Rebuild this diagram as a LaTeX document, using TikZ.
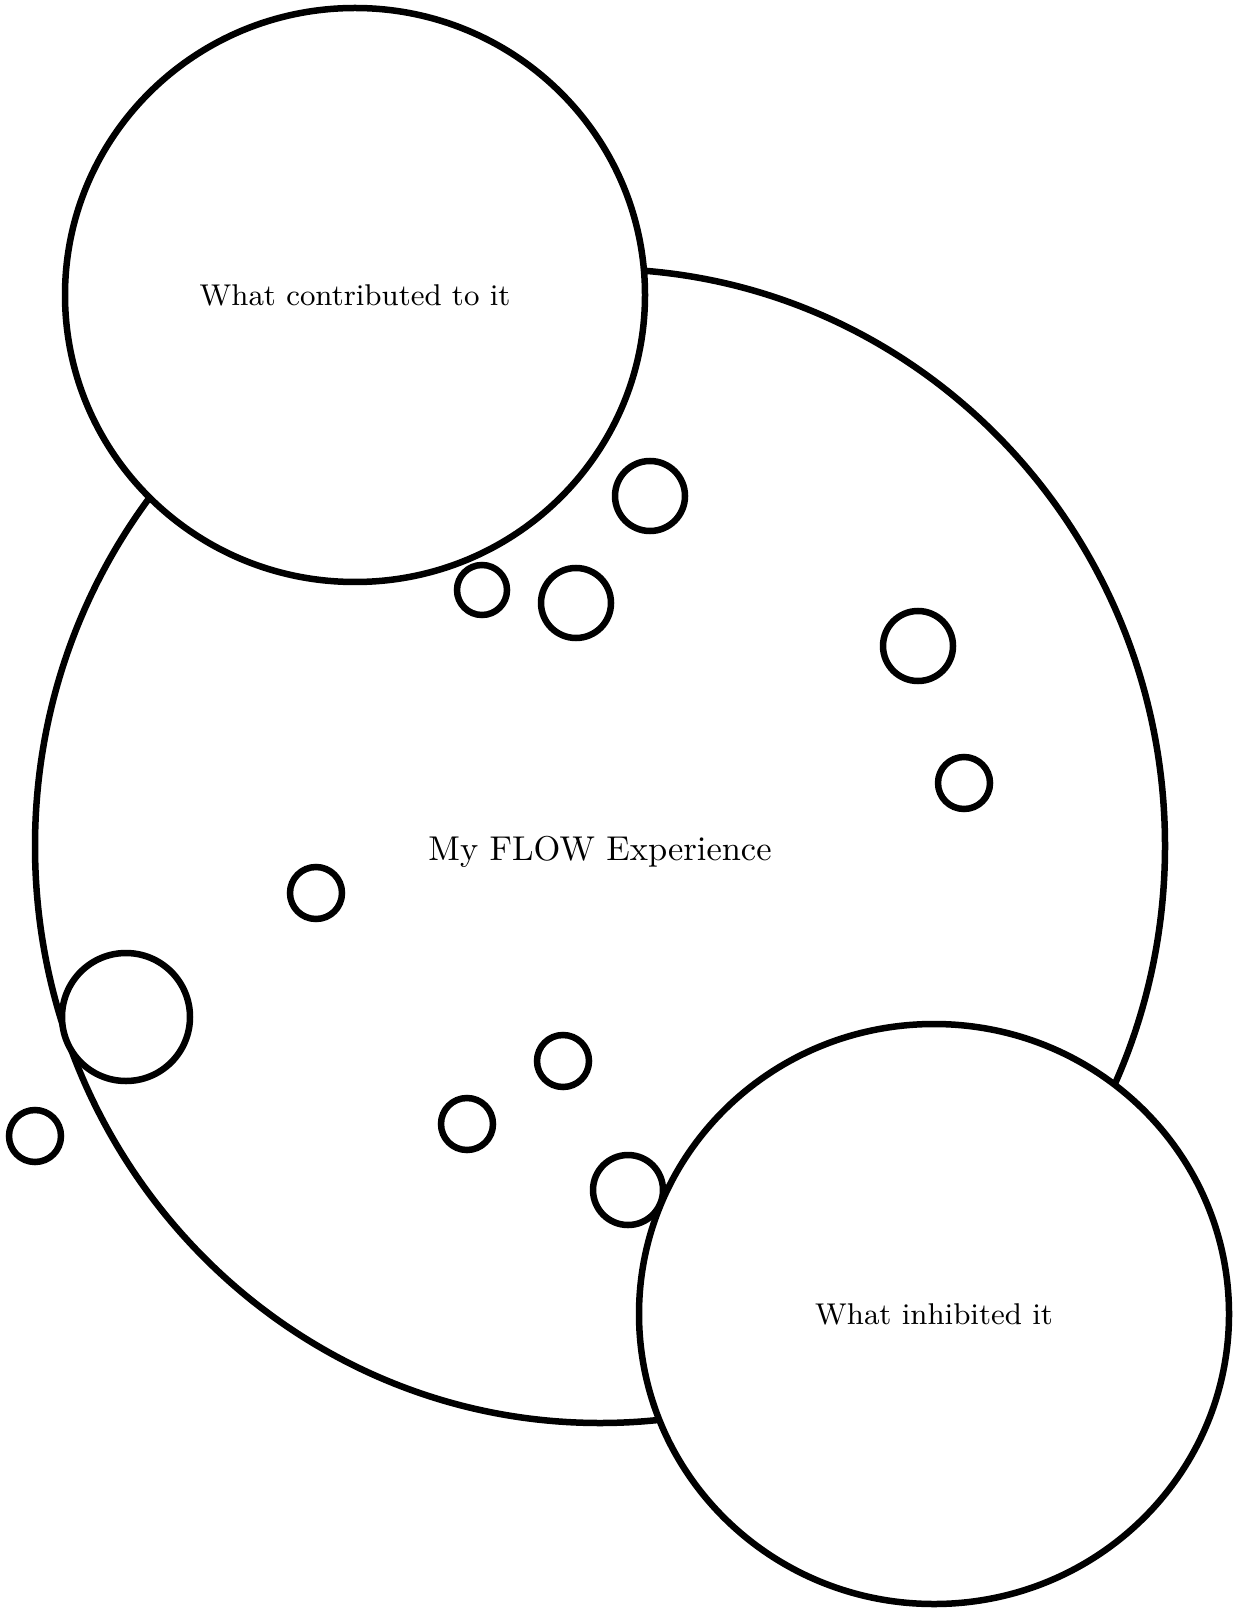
\documentclass[tikz,border=0pt]{standalone}
\usepackage{tikz}
\usetikzlibrary{positioning, shapes.geometric, shadows}
\tikzstyle{every bubble}=[draw, line width=0.65mm, fill=white, inner sep=0pt, drop shadow={opacity=0.2, shadow xshift=0mm, shadow yshift=-0.3mm}]
\tikzstyle{bubble}=[every bubble, circle]
\tikzstyle{thought}=[every bubble, ellipse]
\newcommand{\smalltext}{\fontsize{8.55}{10}\selectfont}

\begin{document}
\begin{tikzpicture}[x=0.1mm, y=-0.1mm]
      \useasboundingbox (0,0) rectangle (1236,1610);
      \node [thought, minimum width=113mm, minimum height=115.4mm, text height=10pt] (flow) at (600,846) {\fontsize{9.8}{12}\selectfont My FLOW Experience};

      \foreach \x/\y/\r [count=\i] in {650/496/35, 482/590/25, 576/603/35, 918/646/35, 964/783/26, 316/893/26, 126/1017/64, 563/1061/26, 467/1124/26, 35/1136/26, 628/1190/35}{
        \node [bubble, minimum size=\r*0.2mm] (bubble-\i) at (\x,\y) {};
      }

      \node [thought, minimum width=58mm, minimum height=57.4mm] (contrib) at (355,295) {\smalltext What contributed to it};
      \node [thought, minimum width=59mm, minimum height=58mm] (inhib) at (934,1314) {\smalltext What inhibited it};
    \end{tikzpicture}
\end{document}
